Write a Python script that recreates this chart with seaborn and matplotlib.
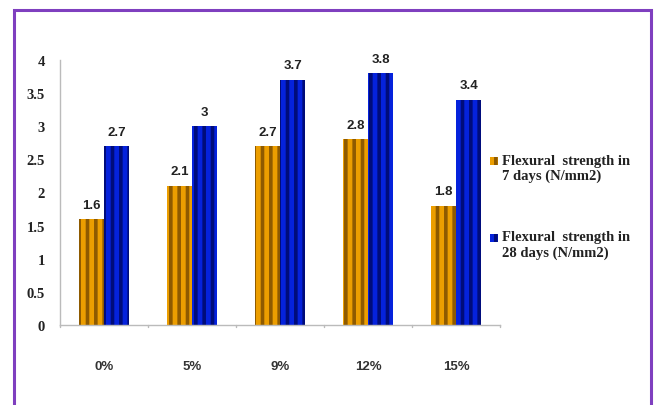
import matplotlib
matplotlib.use("Agg")
import matplotlib.pyplot as plt
import matplotlib.patches as mpatches
from matplotlib.legend_handler import HandlerPatch
import seaborn as sns
import pandas as pd

# Flexural strength of the mixes (N/mm2)
mixes = ["0%", "5%", "9%", "12%", "15%"]
strength_7d = [1.6, 2.1, 2.7, 2.8, 1.8]
strength_28d = [2.7, 3.0, 3.7, 3.8, 3.4]
series_names = ["Flexural  strength in\n7 days (N/mm2)",
                "Flexural  strength in\n28 days (N/mm2)"]
y_ticks = [0, 0.5, 1, 1.5, 2, 2.5, 3, 3.5, 4]

face_colors = ["#EC9E00", "#0522DC"]
stripe_colors = ["#8E5A00", "#000C7A"]

df = pd.DataFrame({
    "mix": mixes * 2,
    "value": strength_7d + strength_28d,
    "series": [series_names[0]] * len(mixes) + [series_names[1]] * len(mixes),
})

sns.set_style("white")
plt.rcParams["hatch.linewidth"] = 2.6

fig = plt.figure(figsize=(6.57, 4.06), dpi=100)
ax = fig.add_axes([0.0913, 0.197, 0.670, 0.653])

sns.barplot(data=df, x="mix", y="value", hue="series", order=mixes,
            hue_order=series_names, palette=face_colors, saturation=1,
            width=0.57, ax=ax, legend=False)

for cont, sc in zip(ax.containers, stripe_colors):
    for bar in cont:
        bar.set_hatch("||")
        bar.set_edgecolor(sc)
        bar.set_linewidth(0)
    ax.bar_label(cont, fmt="%g", padding=6, fontsize=9.5, fontweight="bold",
                 family="Liberation Sans", color="#222222")

ax.set_ylim(0, 4)
ax.set_xlim(-0.5, len(mixes) - 0.5)
ax.set_yticks(y_ticks)
ax.set_yticklabels([f"{t:g}" for t in y_ticks], family="Liberation Serif",
                   fontweight="bold", fontsize=10.5, color="#222222")
ax.set_xticks(range(len(mixes)))
ax.set_xticklabels(mixes, family="Liberation Sans", fontweight="bold",
                   fontsize=9.5, color="#333333")
ax.tick_params(axis="x", length=0, pad=25)
ax.tick_params(axis="y", length=3, color="#BBBBBB", pad=8)
ax.set_xlabel("")
ax.set_ylabel("")

# category separators on the category axis
for b in [i - 0.5 for i in range(len(mixes) + 1)]:
    ax.plot([b, b], [0, -0.03], color="#BBBBBB", lw=1, clip_on=False)

for side in ["top", "right"]:
    ax.spines[side].set_visible(False)
for side in ["left", "bottom"]:
    ax.spines[side].set_color("#BBBBBB")
    ax.spines[side].set_linewidth(1)


def square_on_first_line(legend, orig_handle, xdescent, ydescent,
                         width, height, fontsize):
    # small square key level with the first line of a two-line label
    s = 0.55 * fontsize
    return mpatches.Rectangle((-xdescent, 0.82 * fontsize - s / 2), s, s)


handles = [mpatches.Patch(facecolor=c, edgecolor=sc, hatch="||", linewidth=0)
           for c, sc in zip(face_colors, stripe_colors)]
fig.legend(handles, series_names, loc="upper left",
           bbox_to_anchor=(0.726, 0.651), frameon=False,
           prop={"family": "Liberation Serif", "weight": "bold", "size": 10.5},
           handler_map={mpatches.Patch: HandlerPatch(patch_func=square_on_first_line)},
           handlelength=0.6, handleheight=0.7, handletextpad=0.2,
           labelspacing=3.3, labelcolor="#222222")

# purple frame around the chart area
frame = mpatches.Rectangle((14 / 657, -0.05), (651 - 14) / 657, 1.05 - 11 / 406,
                           transform=fig.transFigure, fill=False,
                           edgecolor="#7F3FBF", linewidth=2.2, clip_on=False)
fig.patches.append(frame)

fig.savefig("out.png", dpi=100)
